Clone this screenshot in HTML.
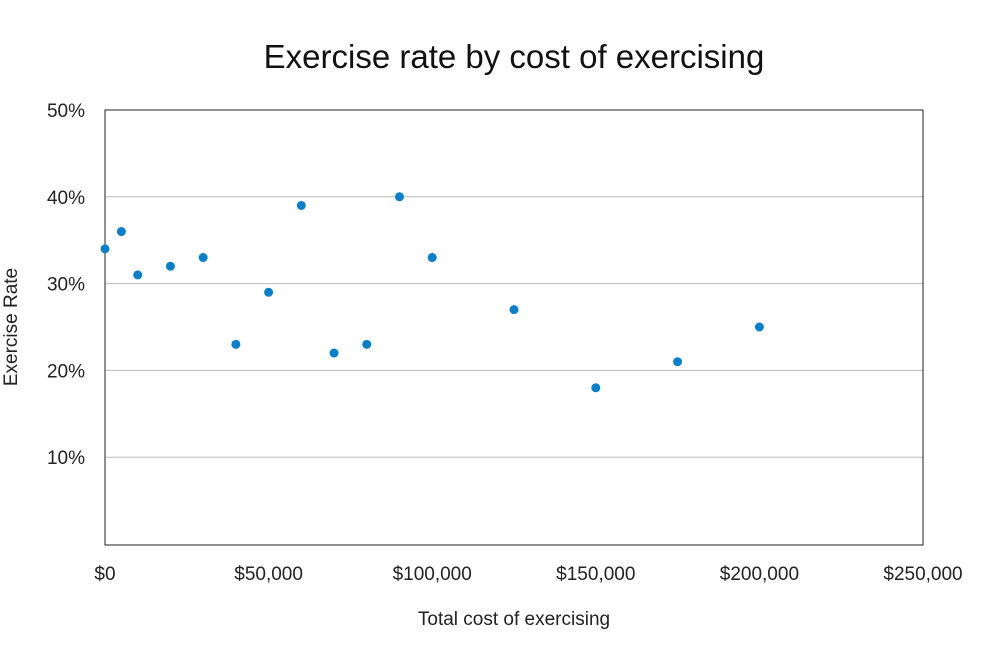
<!DOCTYPE html>
<html><head><meta charset="utf-8"><style>
body{margin:0;background:#fff;font-family:"Liberation Sans",sans-serif;}
</style></head><body>
<svg width="986" height="645">
<text x="514" y="68" text-anchor="middle" font-size="33" fill="#111">Exercise rate by cost of exercising</text>
<g id="grid"></g><g id="yt"></g><g id="xt"></g>
<rect x="105" y="110" width="818" height="435" fill="none" stroke="#222" stroke-width="1"/>
<g id="pts"></g>
<text x="514" y="625" text-anchor="middle" font-size="19" fill="#222">Total cost of exercising</text>
<text transform="translate(17,327) rotate(-90)" text-anchor="middle" font-size="19" fill="#222">Exercise Rate</text>
</svg>
<script>
const costs=[0,5000,10000,20000,30000,40000,50000,60000,70000,80000,90000,100000,125000,150000,175000,200000];
const rates=[34,36,31,32,33,23,29,39,22,23,40,33,27,18,21,25];
const yTicks=[10,20,30,40,50];
const xTicks=[0,50000,100000,150000,200000,250000];
const ns="http://www.w3.org/2000/svg";
const X=v=>105+v/250000*818, Y=v=>544-v/50*434;
function mk(t,a,p){const e=document.createElementNS(ns,t);for(const k in a)e.setAttribute(k,a[k]);p.appendChild(e);return e;}
const g=document.getElementById('grid'),yt=document.getElementById('yt'),xt=document.getElementById('xt'),pts=document.getElementById('pts');
yTicks.forEach(v=>{
 if(v<50){const l=mk('line',{x1:105,x2:923,y1:Y(v),y2:Y(v),stroke:'#bbb','stroke-width':1},g);
 
 }
 const t=mk('text',{x:85,y:Y(v)+7,'text-anchor':'end','font-size':19,fill:'#222'},yt);t.textContent=v+'%';
 
 
});
xTicks.forEach(v=>{
 const t=mk('text',{x:X(v),y:580,'text-anchor':'middle','font-size':19,fill:'#222'},xt);t.textContent='$'+v.toLocaleString('en-US');
 
 
});
costs.forEach((c,i)=>{
 const p=mk('circle',{cx:X(c),cy:Y(rates[i]),r:4.5,fill:'#0a7fc8'},pts);
 
 
});
</script>
</body></html>
